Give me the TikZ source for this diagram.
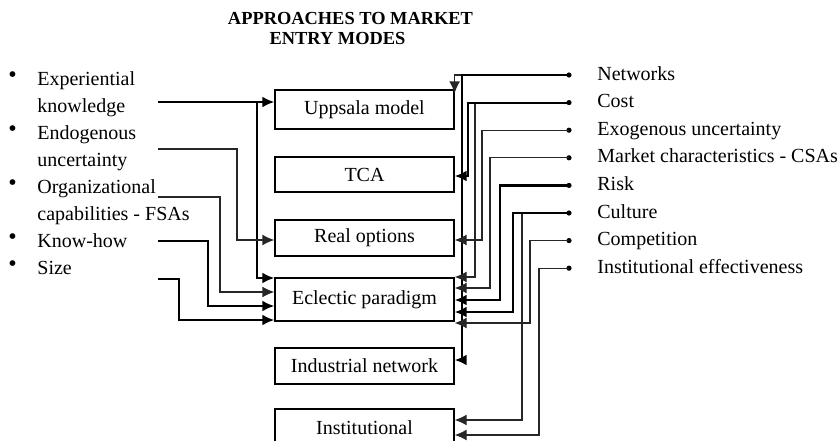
\documentclass[tikz,border=0pt]{standalone}
\usepackage{fontspec}
\setmainfont{Liberation Serif}
\usetikzlibrary{arrows.meta}

\begin{document}
\begin{tikzpicture}[x=0.5pt,y=-0.5pt,
    box/.style={draw, line width=0.6pt, minimum width=89.5pt, inner sep=0pt, font=\fontsize{10}{12}\selectfont},
    lbl/.style={anchor=base west, inner sep=0pt, align=left, font=\fontsize{10}{13.5}\selectfont},
    ttl/.style={anchor=base, inner sep=0pt, font=\fontsize{9.2}{11}\selectfont\bfseries},
    thk/.style={line width=1.1pt},
    thn/.style={line width=0.6pt, black!85},
    arr/.style={-{Latex[length=6pt,width=5.4pt]}}]
  \useasboundingbox (0,0) rectangle (837,440);

  \node[ttl] (ttl1) at (350.5,24) {APPROACHES TO MARKET};
  \node[ttl] (ttl2) at (337.5,44.5) {ENTRY MODES};

  % approaches
  \node[box, minimum height=19.5pt] (upp) at (364.5,109.5) {Uppsala model};
  \node[box, minimum height=17.5pt] (tca) at (364.5,174.5) {TCA};
  \node[box, minimum height=18pt] (ro) at (364.5,238) {Real options};
  \node[box, minimum height=21.5pt] (ecl) at (364.5,299.5) {Eclectic paradigm};
  \node[box, minimum height=18pt] (ind) at (364.5,366) {Industrial network};
  \node[box, minimum height=19pt] (ins) at (364.5,428) {Institutional};

  % firm side (base = last line)
  \node[lbl] (exp) at (37,112) {Experiential\\knowledge};
  \node[lbl] (endo) at (37,166) {Endogenous\\uncertainty};
  \node[lbl] (org) at (37,220) {Organizational\\capabilities - FSAs};
  \node[lbl] (know) at (37,247) {Know-how};
  \node[lbl] (size) at (37,274) {Size};
  \foreach \y in {85,139,193,247,274}
    \node[lbl, font=\fontsize{12}{12}\selectfont] (b\y) at (8,\y-3) {•};

  \coordinate (l1) at (158,102);
  \coordinate (l2) at (158,149);
  \coordinate (l3) at (158,197);
  \coordinate (l4) at (158,241);
  \coordinate (l5) at (158,279);

  \draw[thk,arr] (l1) -- (l1 -| upp.west);
  \draw[thk,arr] (l1) -| (257,278) -- (ecl.west |- 0,278);
  \draw[thn,arr] (l2) -| (237,240) -- (ro.west |- 0,240);
  \draw[thn,arr] (l3) -| (220,292) -- (ecl.west |- 0,292);
  \draw[thk,arr] (l4) -| (208,306) -- (ecl.west |- 0,306);
  \draw[thk,arr] (l5) -| (179,320) -- (ecl.west |- 0,320);

  % market side
  \foreach \t [count=\i] in {Networks, Cost, Exogenous uncertainty,
      Market characteristics - CSAs, Risk, Culture, Competition,
      Institutional effectiveness}{
    \node[lbl] (r\i) at (597,{80+27.6*(\i-1)}) {\t};
    \coordinate (d\i) at (569,{75+27.6*(\i-1)});
    \fill (d\i) circle (1.3pt);
  }

  \draw[thn,arr] (d1) -| ([yshift=-2pt]upp.north east);
  \draw[thk,arr] (d1) -| (462,360) -- (ind.east |- 0,360);
  \draw[thn,arr] (d2) -| (475,277) -- (ecl.east |- 0,277);
  \draw[thk,arr] (d2) -| (468,176) -- (tca.east |- 0,176);
  \draw[thn,arr] (d3) -| (482,240) -- (ro.east |- 0,240);
  \draw[thn,arr] (d4) -| (490,288) -- (ecl.east |- 0,288);
  \draw[thk,arr] (d5) -| (500,300) -- (ecl.east |- 0,300);
  \draw[thn,arr] (d6) -| (522,420) -- (ins.east |- 0,420);
  \draw[thk,arr] (d6) -| (513,312) -- (ecl.east |- 0,312);
  \draw[thn,arr] (d7) -| (530,323) -- (ecl.east |- 0,323);
  \draw[thn,arr] (d8) -| (539,435) -- (ins.east |- 0,435);
\end{tikzpicture}
\end{document}
